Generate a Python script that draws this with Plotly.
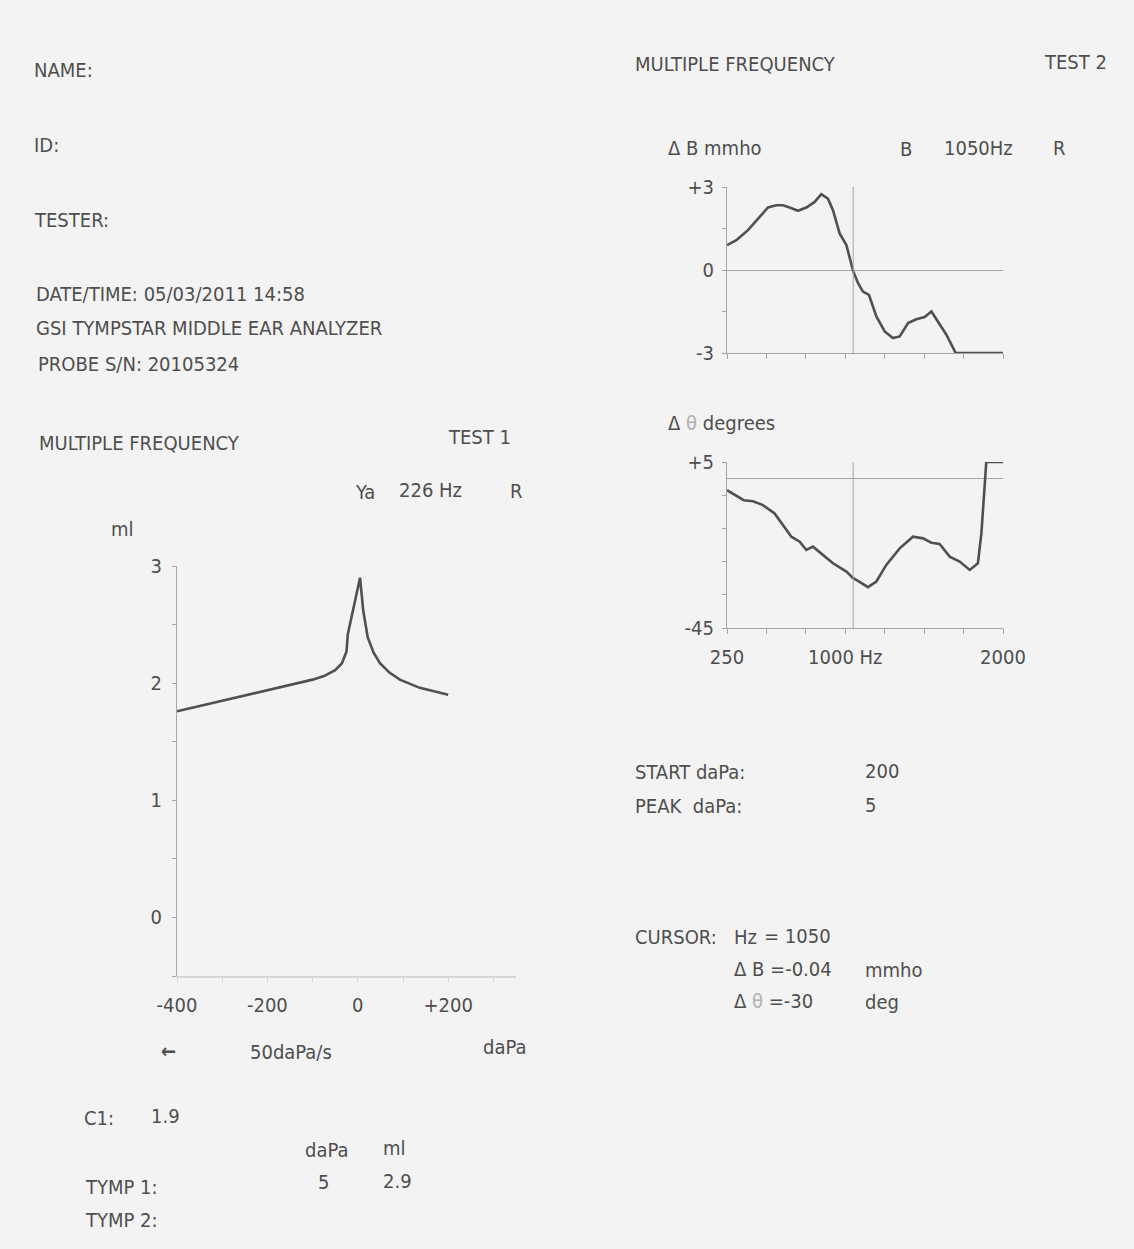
import plotly.graph_objects as go

# ---- Test 1: 226 Hz tympanogram (admittance vs. pressure) ----
tymp_dapa = [-400, -300, -200, -100, -75, -50, -35, -25, -22, -11, 5, 12, 22, 35, 49, 70, 93, 137, 200]
tymp_ml = [1.76, 1.85, 1.94, 2.03, 2.06, 2.11, 2.17, 2.27, 2.42, 2.62, 2.90, 2.62, 2.39, 2.26, 2.17, 2.09, 2.03, 1.96, 1.90]
tymp_xticks = [-400, -300, -200, -100, 0, 100, 200, 300]
tymp_xlabels = ["-400", "", "-200", "", "0", "", "+200", ""]
tymp_yticks = [3, 2.5, 2, 1.5, 1, 0.5, 0, -0.5]
tymp_ylabels = ["3", "", "2", "", "1", "", "0", ""]

# ---- Test 2: multiple-frequency sweep ----
freq_b = [250, 309, 383, 447, 510, 563, 605, 647, 700, 753, 806, 848, 890, 922, 964, 1007, 1050,
          1081, 1112, 1150, 1197, 1250, 1302, 1345, 1398, 1450, 1503, 1546, 1588, 1641, 1700, 2000]
delta_b = [0.90, 1.08, 1.44, 1.86, 2.26, 2.34, 2.34, 2.26, 2.14, 2.26, 2.46, 2.74, 2.58, 2.16, 1.32, 0.90, -0.04,
           -0.48, -0.78, -0.90, -1.68, -2.22, -2.46, -2.40, -1.92, -1.78, -1.70, -1.50, -1.86, -2.34, -3.00, -3.00]

freq_t = [250, 299, 356, 415, 478, 552, 605, 658, 711, 753, 795, 859, 922, 1007, 1050, 1070, 1144, 1197,
          1260, 1345, 1429, 1493, 1546, 1598, 1662, 1725, 1789, 1841, 1863, 1894, 2000]
delta_theta = [-3.5, -5.0, -6.5, -6.8, -8.0, -10.5, -14.0, -17.5, -19.0, -21.5, -20.5, -23.0, -25.5, -28.0, -30.0,
               -30.5, -32.7, -31.0, -26.0, -21.0, -17.5, -18.0, -19.3, -19.7, -23.5, -25.0, -27.5, -25.5, -16.5, 5.0, 5.0]

freq_ticks = [250, 500, 750, 1000, 1250, 1500, 1750, 2000]
freq_labels = ["250", "", "", "1000 Hz", "", "", "", "2000"]
b_ticks = [3, 1.5, 0, -1.5, -3]
b_labels = ["+3", "", "0", "", "-3"]
t_ticks = [5, -5, -15, -25, -35, -45]
t_labels = ["+5", "", "", "", "", "-45"]

cursor_hz = 1050
cursor_b = -0.04
cursor_theta = -30
start_dapa = 200
peak_dapa = 5
peak_ml = 2.9
c1_ml = 1.9

W, H = 1134, 1249
PAPER = "#f3f3f3"
INK = "#4e4e4e"
CURVE = "#505050"
AXIS = "#a5a5a5"
FAINT = "#d6d6d6"
FONT = "DejaVu Sans Condensed"


def fx(px):
    return px / W


def fy(py):
    return 1 - py / H


fig = go.Figure()
fig.add_trace(go.Scatter(x=tymp_dapa, y=tymp_ml, mode="lines", xaxis="x", yaxis="y",
                         line=dict(color=CURVE, width=2.6), showlegend=False, hoverinfo="skip"))
fig.add_trace(go.Scatter(x=freq_b, y=delta_b, mode="lines", xaxis="x2", yaxis="y2",
                         line=dict(color=CURVE, width=2.6), showlegend=False, hoverinfo="skip"))
fig.add_trace(go.Scatter(x=freq_t, y=delta_theta, mode="lines", xaxis="x3", yaxis="y3",
                         line=dict(color=CURVE, width=2.6), showlegend=False, hoverinfo="skip"))

tick_font = dict(family=FONT, size=20, color=INK)

fig.update_layout(
    width=W, height=H, autosize=False,
    margin=dict(l=0, r=0, t=0, b=0, pad=0),
    paper_bgcolor=PAPER, plot_bgcolor=PAPER,
    font=dict(family=FONT, size=20, color=INK),
    xaxis=dict(domain=[fx(177), fx(516)], range=[-400, 350], anchor="y", automargin=False,
               tickvals=tymp_xticks, ticktext=tymp_xlabels, tickfont=tick_font,
               showgrid=False, zeroline=False, showline=True, linecolor=FAINT, linewidth=1.5,
               ticks="outside", ticklen=5, tickcolor=FAINT, ticklabelstandoff=5),
    yaxis=dict(domain=[fy(976), fy(566)], range=[-0.5, 3], anchor="x", automargin=False,
               tickvals=tymp_yticks, ticktext=tymp_ylabels, tickfont=tick_font,
               showgrid=False, zeroline=False, showline=True, linecolor=AXIS, linewidth=1,
               ticks="outside", ticklen=4, tickcolor=AXIS, ticklabelstandoff=6),
    xaxis2=dict(domain=[fx(727), fx(1003)], range=[250, 2000], anchor="y2", automargin=False,
                tickvals=freq_ticks, showticklabels=False,
                showgrid=False, zeroline=False, showline=True, linecolor=AXIS, linewidth=1,
                ticks="outside", ticklen=5, tickcolor=AXIS),
    yaxis2=dict(domain=[fy(353), fy(187)], range=[-3, 3], anchor="x2", automargin=False,
                tickvals=b_ticks, ticktext=b_labels, tickfont=tick_font,
                showgrid=False, zeroline=True, zerolinecolor=AXIS, zerolinewidth=1,
                showline=True, linecolor=AXIS, linewidth=1,
                ticks="outside", ticklen=4, tickcolor=AXIS, ticklabelstandoff=4),
    xaxis3=dict(domain=[fx(727), fx(1003)], range=[250, 2000], anchor="y3", automargin=False,
                tickvals=freq_ticks, ticktext=freq_labels, tickfont=tick_font,
                showgrid=False, zeroline=False, showline=True, linecolor=AXIS, linewidth=1,
                ticks="outside", ticklen=5, tickcolor=AXIS, ticklabelstandoff=6),
    yaxis3=dict(domain=[fy(628), fy(462)], range=[-45, 5], anchor="x3", automargin=False,
                tickvals=t_ticks, ticktext=t_labels, tickfont=tick_font,
                showgrid=False, zeroline=True, zerolinecolor=AXIS, zerolinewidth=1.2,
                showline=True, linecolor=AXIS, linewidth=1,
                ticks="outside", ticklen=4, tickcolor=AXIS, ticklabelstandoff=4),
)

# cursor line through both frequency plots
for xr, yr in (("x2", "y2 domain"), ("x3", "y3 domain")):
    fig.add_shape(type="line", xref=xr, yref=yr, x0=cursor_hz, x1=cursor_hz, y0=0, y1=1,
                  line=dict(color=AXIS, width=1))

theta = "<span style='color:#b0b0b0'>θ</span>"
texts = [
    ("NAME:", 33, 70),
    ("ID:", 33, 145),
    ("TESTER:", 33, 220),
    ("DATE/TIME: 05/03/2011 14:58", 35, 294),
    ("GSI TYMPSTAR MIDDLE EAR ANALYZER", 35, 328),
    ("PROBE S/N: 20105324", 37, 364),
    ("MULTIPLE FREQUENCY", 38, 443),
    ("TEST 1", 447, 437),
    ("Ya", 354, 492),
    ("226 Hz", 398, 490),
    ("R", 509, 491),
    ("ml", 110, 529),
    ("<b>←</b>", 160, 1051),
    ("50daPa/s", 249, 1052),
    ("daPa", 482, 1047),
    ("C1:", 83, 1118),
    (f"{c1_ml}", 150, 1116),
    ("daPa", 304, 1150),
    ("ml", 382, 1148),
    ("TYMP 1:", 84, 1187),
    (f"{peak_dapa}", 317, 1182),
    (f"{peak_ml}", 382, 1181),
    ("TYMP 2:", 84, 1220),
    ("MULTIPLE FREQUENCY", 634, 64),
    ("TEST 2", 1043, 62),
    ("Δ B mmho", 667, 148),
    ("B", 899, 149),
    (f"{cursor_hz}Hz", 943, 148),
    ("R", 1052, 148),
    (f"Δ {theta} degrees", 667, 423),
    ("START daPa:", 634, 772),
    (f"{start_dapa}", 864, 771),
    ("PEAK  daPa:", 634, 806),
    (f"{peak_dapa}", 864, 805),
    ("CURSOR:", 634, 937),
    ("Hz", 733, 937),
    (f"= {cursor_hz}", 763, 936),
    (f"Δ B =-{abs(cursor_b):.2f}", 733, 969),
    ("mmho", 864, 970),
    (f"Δ {theta} ={cursor_theta}", 733, 1001),
    ("deg", 864, 1002),
]
for txt, x, y in texts:
    fig.add_annotation(text=txt, x=fx(x), y=fy(y), xref="paper", yref="paper",
                       xanchor="left", yanchor="middle", showarrow=False,
                       borderpad=0, font=dict(family=FONT, size=20, color=INK))

fig.write_html("out.html")
